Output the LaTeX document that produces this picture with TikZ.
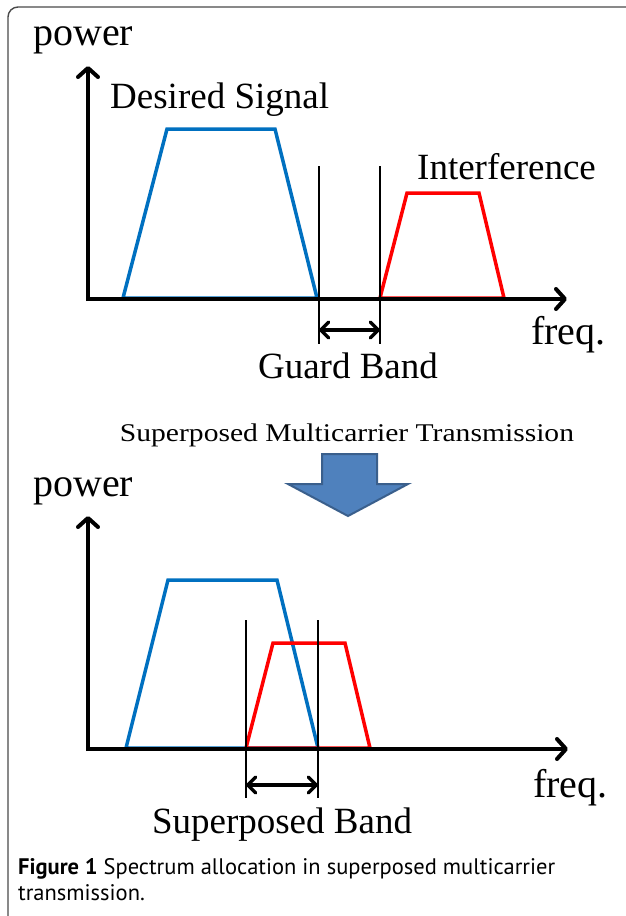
\documentclass[tikz,border=0pt]{standalone}
\usepackage{fontspec}
\setmainfont{Liberation Serif}
\newfontfamily\capfont{PT Sans}
\usetikzlibrary{arrows.meta}

\definecolor{sigblue}{HTML}{0070C0}
\definecolor{sigred}{HTML}{FF0000}
\definecolor{blockfill}{HTML}{4F81BD}
\definecolor{blockline}{HTML}{3A5F8C}
\definecolor{framegray}{HTML}{4A4A4A}

\tikzset{
  axisline/.style={line width=4pt, -{Straight Barb[length=9pt,width=20pt,line cap=round,line join=round]}},
  bandspan/.style={line width=3.5pt, {Straight Barb[length=8pt,width=16pt,line cap=round,line join=round]}-{Straight Barb[length=8pt,width=16pt,line cap=round,line join=round]}},
  bluespec/.style={draw=sigblue, line width=3.5pt, line join=miter},
  redspec/.style={draw=sigred, line width=3.5pt, line join=miter},
  edgemark/.style={line width=1.3pt},
  label/.style={inner sep=0pt, font=\fontsize{37}{40}\selectfont},
  biglabel/.style={inner sep=0pt, font=\fontsize{40}{44}\selectfont},
  caption/.style={inner sep=0pt, text=black, font=\capfont\fontsize{22.5}{26}\selectfont},
}

\begin{document}
\begin{tikzpicture}[x=1pt,y=-1pt]
\useasboundingbox (0,0) rectangle (626,916);
\clip (0,0) rectangle (626,916);

% outer frame
\draw[framegray, line width=1.4pt, rounded corners=10pt] (8,7) rectangle (660,940);

% ---------------- upper spectrum ----------------
\coordinate (o1) at (88,299);
\coordinate (y1) at (88,66);
\coordinate (x1) at (567,299);
\node[biglabel, anchor=base west] (pw1) at (33,45) {power};
\node[biglabel, anchor=base west] (fq1) at (531,344) {freq.};

\draw[bluespec] (123,298) coordinate (b1a) -- (167,129) coordinate (b1b)
  -- (275,129) coordinate (b1c) -- (317,298) coordinate (b1d) -- cycle;
\draw[redspec] (380,298) coordinate (r1a) -- (407,193) coordinate (r1b)
  -- (479,193) coordinate (r1c) -- (504,298) coordinate (r1d) -- cycle;

\draw[axisline] (88,301) -- (y1);
\draw[axisline] (86,299) -- (x1);

\coordinate (g1t) at (319,166);
\coordinate (g1b) at (319,344);
\coordinate (g2t) at (380,166);
\coordinate (g2b) at (380,344);
\draw[edgemark] (g1t) -- (g1b);
\draw[edgemark] (g2t) -- (g2b);
\draw[bandspan] (319,330) coordinate (ga) -- (380,330) coordinate (gb);

\node[label, anchor=base west] (des) at (110,108) {Desired Signal};
\node[label, anchor=base west] (intf) at (417,179) {Interference};
\node[label, anchor=base] (guard) at (348,378) {Guard Band};

% ---------------- transition ----------------
\node[inner sep=0pt, anchor=base, font=\fontsize{25.5}{28}\selectfont] (smt) at (347,441)
  {\scalebox{1.16}[1]{Superposed Multicarrier Transmission}};
\draw[fill=blockfill, draw=blockline, line width=2pt, line join=miter]
  (322,454) -- (377,454) -- (377,484) -- (408,484) -- (348,516)
  -- (288,484) -- (322,484) -- cycle;

% ---------------- lower spectrum ----------------
\coordinate (o2) at (88,749);
\coordinate (y2) at (88,516);
\coordinate (x2) at (568,749);
\node[biglabel, anchor=base west] (pw2) at (33,496) {power};
\node[biglabel, anchor=base west] (fq2) at (533,797) {freq.};

\draw[bluespec] (126,748) -- (168,580) -- (277,580) -- (318,748) -- cycle;
\draw[redspec] (246,748) -- (273,643) -- (345,643) -- (370,748) -- cycle;

\draw[axisline] (88,751) -- (y2);
\draw[axisline] (86,749) -- (x2);

\coordinate (s1t) at (246,620);
\coordinate (s1b) at (246,798);
\coordinate (s2t) at (318,620);
\coordinate (s2b) at (318,798);
\draw[edgemark] (s1t) -- (s1b);
\draw[edgemark] (s2t) -- (s2b);
\draw[bandspan] (246,785) coordinate (sa) -- (318,785) coordinate (sb);

\node[label, anchor=base] (sband) at (282,833) {Superposed Band};

% ---------------- caption ----------------
\node[caption, anchor=base west] (cap1) at (18,874)
  {\textbf{Figure 1} Spectrum allocation in superposed multicarrier};
\node[caption, anchor=base west] (cap2) at (18,900) {transmission.};
\end{tikzpicture}
\end{document}
